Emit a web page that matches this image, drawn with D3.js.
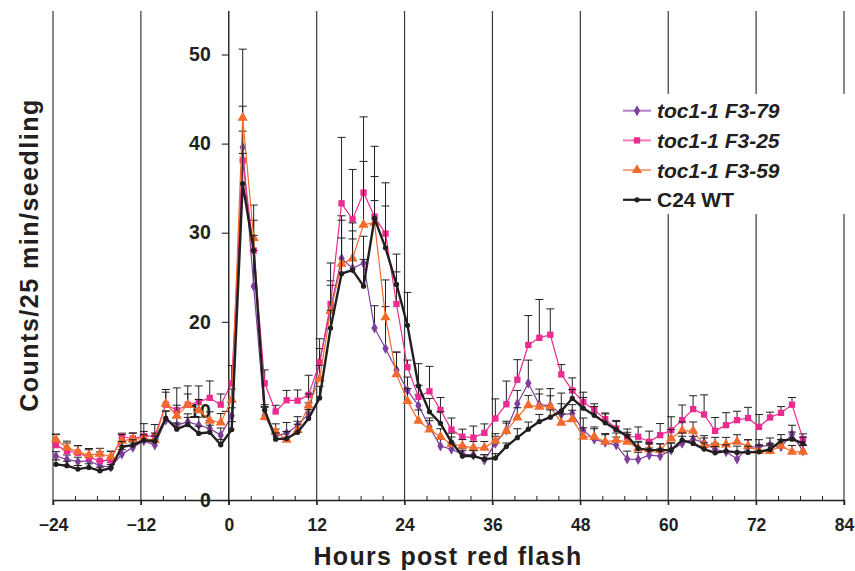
<!DOCTYPE html>
<html>
<head>
<meta charset="utf-8">
<script src="https://cdn.jsdelivr.net/npm/d3@7"></script>
<style>
  body { margin: 0; background: #fff; }
  svg { display: block; font-family: "Liberation Sans", Arial, sans-serif; }
</style>
</head>
<body>
<svg id="chart"></svg>
<script>
// sample times, hours after the red flash
const hours = [
  -23.6, -22.1, -20.6, -19.1, -17.6, -16.1, -14.6, -13.1, -11.6, -10.1, -8.6, -7.1, -5.6, -4.1, -2.6, -1.1, 0.4,
  1.9, 3.4, 4.9, 6.4, 7.9, 9.4, 10.9, 12.4, 13.9, 15.4, 16.9, 18.4, 19.9, 21.4, 22.9, 24.4,
  25.9, 27.4, 28.9, 30.4, 31.9, 33.4, 34.9, 36.4, 37.9, 39.4, 40.9, 42.4, 43.9, 45.4, 46.9, 48.4,
  49.9, 51.4, 52.9, 54.4, 55.9, 57.4, 58.9, 60.4, 61.9, 63.4, 64.9, 66.4, 67.9, 69.4, 70.9, 72.4,
  73.9, 75.4, 76.9, 78.4
]

const f79 = [
  4.93, 4.55, 4.3, 4.4, 3.85, 3.7, 5.15, 5.9, 6.64, 6.16, 8.96, 8.4, 8.77, 8.4, 8.03, 7.28, 9.45,
  39.6, 24.0, 9.5, 7.17, 7.5, 8.35, 9.7, 15.5, 21.5, 27.1, 26.0, 26.6, 19.3, 17.0, 14.6, 12.3,
  10.6, 8.2, 6.05, 5.7, 5.15, 5.04, 4.48, 6.35, 7.84, 10.8, 13.1, 10.7, 10.6, 9.6, 9.7, 7.8,
  6.8, 6.46, 6.16, 4.59, 4.55, 5.04, 4.93, 5.6, 6.35, 6.83, 6.42, 5.67, 5.41, 4.59, 5.97, 5.97,
  6.16, 5.97, 7.39, 5.49
]
const f79Err = [
  0.5, 0.5, 0.5, 0.5, 0.5, 0.5, 0.5, 0.6, 0.6, 0.6, 1.0, 0.9, 0.9, 0.9, 0.9, 0.8, 0.9,
  1.8, 4.0, 1.0, 0.8, 1.2, 1.0, 1.2, 1.5, 3.1, 4.8, 4.2, 3.0, 2.5, 4.7, 2.0, 1.5,
  1.2, 1.0, 0.8, 0.7, 0.6, 0.6, 0.6, 0.8, 1.0, 1.5, 2.6, 1.2, 1.9, 1.2, 1.0, 1.4,
  1.4, 1.0, 0.9, 0.9, 0.8, 0.8, 0.8, 0.8, 0.8, 0.8, 0.8, 0.7, 0.7, 0.8, 0.8, 0.8,
  0.8, 0.8, 1.0, 0.7
]

const f25 = [
  6.16, 5.49, 5.3, 4.78, 4.4, 4.48, 7.1, 6.9, 7.17, 7.17, 10.7, 10.08, 10.7, 11.0, 11.46, 10.7, 13.1,
  38.1, 28.0, 13.1, 9.93, 11.2, 11.15, 11.8, 15.4, 22.0, 33.3, 31.5, 34.5, 31.8, 29.9, 22.0, 14.9,
  11.57, 12.2, 10.1, 7.9, 7.1, 7.0, 7.54, 9.15, 10.75, 13.5, 17.4, 18.2, 18.55, 14.1, 12.3, 11.0,
  10.1, 9.07, 8.03, 7.1, 7.1, 6.53, 7.28, 7.84, 8.96, 10.2, 9.6, 7.76, 8.4, 8.96, 9.2, 8.2,
  9.26, 9.78, 10.7, 6.83
]
const f25Err = [
  1.2, 0.9, 0.8, 1.0, 1.0, 1.0, 0.4, 0.6, 1.4, 1.3, 1.7, 2.5, 2.1, 1.8, 1.9, 1.2, 2.0,
  12.5, 3.4, 1.5, 0.7, 1.1, 1.2, 2.2, 2.7, 4.6, 7.4, 5.6, 8.5, 4.5, 3.1, 3.6, 0.8,
  1.3, 2.8, 1.4, 1.3, 0.85, 1.3, 1.0, 2.2, 2.6, 2.25, 3.3, 4.3, 2.9, 1.1, 1.4, 1.1,
  0.7, 0.7, 0.9, 0.5, 1.1, 1.2, 1.3, 1.5, 1.7, 1.5, 2.2, 1.5, 1.4, 1.0, 1.2, 1.4,
  0.6, 0.7, 0.8, 0.6
]

const f59 = [
  6.8, 5.9, 5.4, 5.04, 5.2, 4.85, 6.64, 6.83, 6.9, 6.72, 10.8, 9.44, 10.7, 10.08, 8.9, 8.7, 11.25,
  42.9, 29.4, 9.3, 7.65, 6.75, 7.84, 10.6, 13.6, 21.2, 26.5, 27.1, 30.9, 31.1, 20.5, 14.1, 11.1,
  8.9, 7.9, 7.1, 6.27, 6.08, 5.86, 5.86, 6.64, 7.73, 9.26, 10.64, 10.45, 10.5, 8.66, 9.07, 7.1,
  7.1, 6.53, 6.72, 6.53, 5.79, 5.67, 5.6, 6.9, 7.76, 7.76, 6.16, 6.23, 6.23, 6.53, 6.05, 5.49,
  5.49, 6.08, 5.41, 5.41
]
const f59Err = [
  0.6, 0.7, 0.7, 0.6, 0.6, 0.6, 0.7, 0.7, 0.8, 0.8, 1.3, 1.2, 1.2, 1.2, 1.0, 1.0, 1.2,
  1.3, 3.7, 1.1, 0.9, 0.9, 1.0, 1.3, 1.5, 2.9, 4.9, 4.0, 7.1, 2.5, 4.2, 2.5, 1.4,
  1.2, 1.0, 0.9, 0.8, 0.7, 0.7, 0.7, 0.8, 0.9, 1.1, 1.1, 2.0, 1.2, 1.0, 1.0, 1.0,
  0.9, 0.8, 0.8, 0.8, 0.8, 0.8, 0.7, 1.0, 1.0, 1.0, 0.8, 0.8, 0.8, 0.8, 0.7, 0.7,
  0.7, 0.7, 0.7, 0.7
]

const wt = [
  4.0, 3.85, 3.47, 3.66, 3.28, 3.58, 5.97, 6.16, 6.72, 6.6, 9.2, 7.95, 8.47, 7.47, 7.6, 6.2, 7.9,
  35.5, 28.0, 10.1, 6.83, 6.9, 7.6, 9.15, 11.46, 19.3, 25.4, 25.8, 24.0, 31.6, 28.3, 24.2, 19.6,
  12.8, 9.9, 8.6, 6.5, 4.93, 4.93, 4.59, 4.7, 6.0, 7.0, 7.95, 8.8, 9.3, 10.0, 11.4, 10.3,
  9.5, 8.66, 7.9, 7.17, 5.79, 5.6, 5.6, 5.6, 6.72, 6.35, 5.71, 5.3, 5.49, 5.34, 5.34, 5.41,
  5.67, 6.64, 6.83, 6.35
]
const wtErr = [
  0.5, 0.5, 0.4, 0.4, 0.4, 0.4, 0.6, 0.6, 0.6, 0.6, 0.8, 0.7, 0.8, 0.8, 0.8, 0.6, 0.9,
  3.4, 1.7, 0.6, 0.7, 0.8, 0.9, 1.0, 1.3, 2.0, 4.0, 3.5, 3.0, 8.1, 7.3, 3.4, 3.7,
  2.5, 1.5, 1.3, 1.0, 0.6, 0.6, 0.5, 0.5, 0.4, 1.0, 0.8, 0.8, 0.8, 2.0, 1.0, 1.2,
  1.0, 1.0, 0.9, 0.8, 0.7, 0.7, 0.7, 0.8, 0.8, 0.8, 0.7, 0.7, 0.7, 0.7, 0.7, 0.7,
  0.7, 0.7, 0.8, 0.7
]

const seriesNames = ["toc1-1 F3-79", "toc1-1 F3-25", "toc1-1 F3-59", "C24 WT"]
const xTicks = [-24, -12, 0, 12, 24, 36, 48, 60, 72, 84]
const xMinorTicks = [-21, -18, -15, -9, -6, -3, 3, 6, 9, 15, 18, 21, 27, 30, 33, 39, 42, 45, 51, 54, 57, 63, 66, 69, 75, 78, 81]
const yTicks = [0, 10, 20, 30, 40, 50]

const width = 855, height = 571

const svg = d3.select("#chart").attr("width", width).attr("height", height)

const x = d3.scaleLinear().domain([-24, 84]).range([53, 844])
const y = d3.scaleLinear().domain([0, 50]).range([500, 54.5])

const series = [
  { name: seriesNames[0], values: f79, err: f79Err, color: "#7e3f9d", legendColor: "#b07fc8", symbol: d3.symbolDiamond, size: 34, width: 1.2, italic: true },
  { name: seriesNames[1], values: f25, err: f25Err, color: "#ec2a8f", legendColor: "#f27bb8", symbol: d3.symbolSquare, size: 40, width: 1.2, italic: true },
  { name: seriesNames[2], values: f59, err: f59Err, color: "#f26a2c", legendColor: "#f5a27f", symbol: d3.symbolTriangle, size: 46, width: 1.2, italic: true },
  { name: seriesNames[3], values: wt, err: wtErr, color: "#231f20", legendColor: "#231f20", symbol: d3.symbolCircle, size: 22, width: 2.4, italic: false }
]

// vertical lines at every 12 h
svg.append("g")
  .selectAll("line")
  .data(xTicks)
  .join("line")
  .attr("x1", d => x(d)).attr("x2", d => x(d))
  .attr("y1", 11).attr("y2", 505)
  .attr("stroke", d => d === 0 ? "#231f20" : "#3a3a3a")
  .attr("stroke-width", d => d === 0 ? 1.4 : 1.2)

// x axis
const xAxis = svg.append("g")
  .attr("transform", `translate(0,${y(0)})`)
  .call(d3.axisBottom(x).tickValues(xTicks).tickSize(5).tickPadding(14).tickFormat(d3.format("d")))
xAxis.select(".domain").attr("stroke", "#231f20").attr("stroke-width", 1.3)
xAxis.selectAll(".tick line").attr("stroke", "#231f20").attr("stroke-width", 1.2)
xAxis.selectAll("text")
  .attr("fill", "#231f20")
  .attr("font-size", 17.5)
  .attr("font-weight", "bold")

const xMinor = svg.append("g")
  .attr("transform", `translate(0,${y(0)})`)
  .call(d3.axisBottom(x).tickValues(xMinorTicks).tickSize(-4).tickFormat(""))
xMinor.select(".domain").remove()
xMinor.selectAll(".tick line").attr("stroke", "#231f20").attr("stroke-width", 1)

// y axis
const yAxis = svg.append("g")
  .attr("transform", `translate(${x(0)},0)`)
  .call(d3.axisLeft(y).tickValues(yTicks).tickSize(7).tickPadding(11))
yAxis.select(".domain").remove()
yAxis.selectAll(".tick line").attr("stroke", "#231f20").attr("stroke-width", 1.1)
yAxis.selectAll("text")
  .attr("fill", "#231f20")
  .attr("font-size", 19.5)
  .attr("font-weight", "bold")

// axis titles
svg.append("text")
  .attr("x", 448).attr("y", 565)
  .attr("text-anchor", "middle")
  .attr("font-size", 25)
  .attr("letter-spacing", 1.3)
  .attr("font-weight", "bold")
  .attr("fill", "#231f20")
  .text("Hours post red flash")

svg.append("text")
  .attr("transform", "translate(38,255) rotate(-90)")
  .attr("text-anchor", "middle")
  .attr("font-size", 25)
  .attr("letter-spacing", 1.5)
  .attr("font-weight", "bold")
  .attr("fill", "#231f20")
  .text("Counts/25 min/seedling")

// data
const line = d3.line()
  .x((d, i) => x(hours[i]))
  .y(d => y(d))

series.forEach(s => {
  const g = svg.append("g")

  // one sided error bars
  const eb = g.append("g")
    .selectAll("g")
    .data(s.values.map((v, i) => ({ t: hours[i], v, e: s.err[i] })))
    .join("g")
  eb.append("line")
    .attr("x1", d => x(d.t)).attr("x2", d => x(d.t))
    .attr("y1", d => y(d.v)).attr("y2", d => y(d.v + d.e))
    .attr("stroke", "#231f20").attr("stroke-width", 1)
  eb.append("line")
    .attr("x1", d => x(d.t) - 4).attr("x2", d => x(d.t) + 4)
    .attr("y1", d => y(d.v + d.e)).attr("y2", d => y(d.v + d.e))
    .attr("stroke", "#231f20").attr("stroke-width", 1)

  g.append("path")
    .datum(s.values)
    .attr("d", line)
    .attr("fill", "none")
    .attr("stroke", s.color)
    .attr("stroke-width", s.width)
    .attr("stroke-linejoin", "round")

  g.append("g")
    .selectAll("path")
    .data(s.values)
    .join("path")
    .attr("transform", (d, i) => `translate(${x(hours[i])},${y(d)})`)
    .attr("d", d3.symbol().type(s.symbol).size(s.size))
    .attr("fill", s.color)
})

// legend
const legend = svg.append("g").attr("transform", "translate(600,94)")
legend.append("rect")
  .attr("width", 252).attr("height", 120)
  .attr("fill", "#fff")

series.forEach((s, i) => {
  const row = legend.append("g").attr("transform", `translate(0,${16.7 + i * 29.7})`)
  row.append("line")
    .attr("x1", 23).attr("x2", 51)
    .attr("stroke", s.legendColor)
    .attr("stroke-width", s.italic ? 2 : 2.2)
  row.append("path")
    .attr("transform", "translate(37,0)")
    .attr("d", d3.symbol().type(s.symbol).size(s.size))
    .attr("fill", s.color)
  row.append("text")
    .attr("x", 57).attr("y", 7.5)
    .attr("font-size", 21)
    .attr("font-weight", "bold")
    .attr("font-style", s.italic ? "italic" : "normal")
    .attr("fill", "#231f20")
    .text(s.name)
})
</script>
</body>
</html>
